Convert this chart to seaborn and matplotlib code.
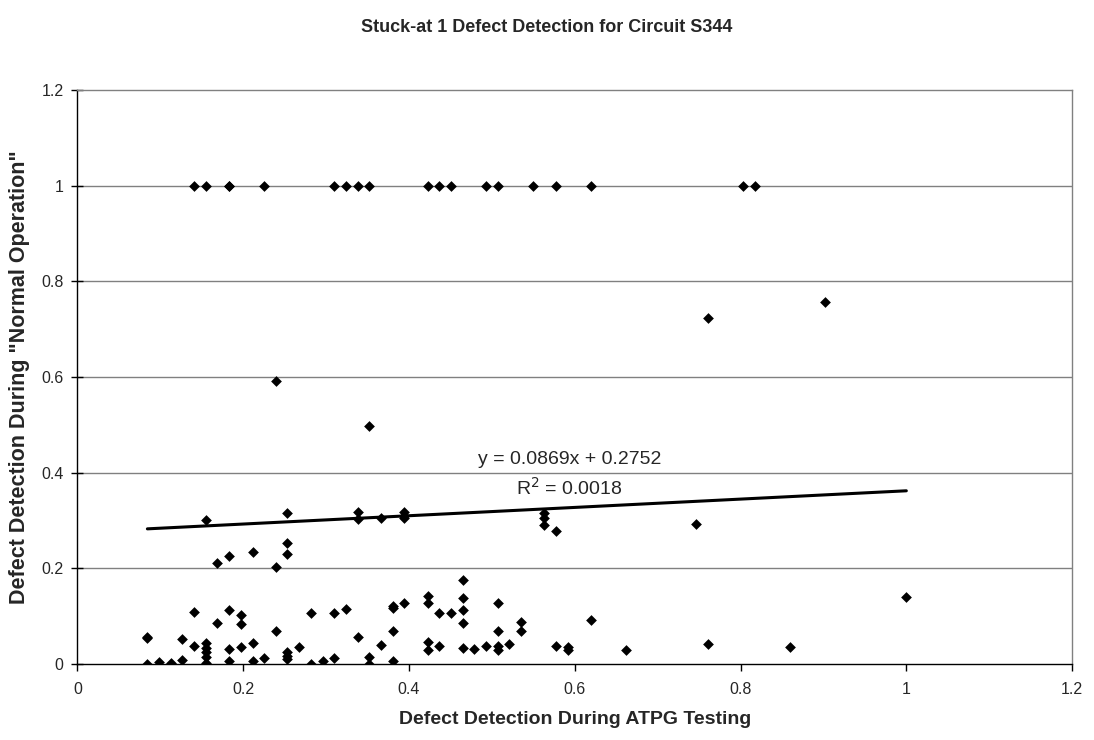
import numpy as np
import pandas as pd
import matplotlib
matplotlib.use("Agg")
import matplotlib.pyplot as plt
import seaborn as sns

# ---- data ----
# points detected with probability 1 during normal operation
x_top = [0.1408, 0.1549, 0.1831, 0.1831, 0.2254, 0.3099, 0.3239, 0.3380, 0.3521,
         0.4225, 0.4366, 0.4507, 0.4930, 0.5070, 0.5493, 0.5775, 0.6197, 0.8028, 0.8169]
y_top = [1.0] * len(x_top)

# remaining points (ATPG detection, normal-operation detection)
x_low = [0.0845, 0.0845, 0.0845, 0.0986, 0.1127, 0.1127, 0.1268, 0.1268,
         0.1408, 0.1408, 0.1549, 0.1549, 0.1549, 0.1549, 0.1549, 0.1549,
         0.1690, 0.1690, 0.1831, 0.1831, 0.1831, 0.1831,
         0.1972, 0.1972, 0.1972, 0.2113, 0.2113, 0.2113, 0.2254,
         0.2394, 0.2394, 0.2394,
         0.2535, 0.2535, 0.2535, 0.2535, 0.2535, 0.2535,
         0.2676, 0.2817, 0.2817, 0.2958, 0.3099, 0.3099, 0.3239,
         0.3380, 0.3380, 0.3380, 0.3521, 0.3521, 0.3521,
         0.3662, 0.3662, 0.3803, 0.3803, 0.3803, 0.3803,
         0.3944, 0.3944, 0.3944, 0.3944,
         0.4225, 0.4225, 0.4225, 0.4225, 0.4366, 0.4366, 0.4507,
         0.4648, 0.4648, 0.4648, 0.4648, 0.4648, 0.4789, 0.4930,
         0.5070, 0.5070, 0.5070, 0.5070, 0.5211, 0.5352, 0.5352,
         0.5634, 0.5634, 0.5634, 0.5775, 0.5775, 0.5915, 0.5915,
         0.6197, 0.6620, 0.7465, 0.7606, 0.7606, 0.8592, 0.9014, 1.0]
y_low = [0.057, 0.055, 0.000, 0.004, 0.002, 0.000, 0.052, 0.008,
         0.109, 0.038, 0.300, 0.043, 0.033, 0.025, 0.015, 0.002,
         0.211, 0.085, 0.226, 0.112, 0.031, 0.007,
         0.102, 0.084, 0.036, 0.234, 0.043, 0.007, 0.012,
         0.592, 0.202, 0.070,
         0.315, 0.254, 0.231, 0.026, 0.017, 0.010,
         0.036, 0.106, 0.000, 0.007, 0.106, 0.012, 0.116,
         0.317, 0.303, 0.057, 0.498, 0.015, 0.000,
         0.305, 0.039, 0.122, 0.118, 0.069, 0.007,
         0.317, 0.310, 0.305, 0.128,
         0.142, 0.128, 0.047, 0.029, 0.106, 0.038, 0.106,
         0.176, 0.137, 0.112, 0.086, 0.034, 0.031, 0.038,
         0.128, 0.069, 0.038, 0.029, 0.042, 0.088, 0.068,
         0.315, 0.305, 0.291, 0.277, 0.038, 0.035, 0.029,
         0.091, 0.029, 0.293, 0.723, 0.042, 0.036, 0.756, 0.141]

# linear trend line shown in the reference
trend_slope = 0.0869
trend_intercept = 0.2752
trend_r2 = 0.0018

x_ticks = [0, 0.2, 0.4, 0.6, 0.8, 1, 1.2]
y_ticks = [0, 0.2, 0.4, 0.6, 0.8, 1, 1.2]

title = "Stuck-at 1 Defect Detection for Circuit S344"
x_label = "Defect Detection During ATPG Testing"
y_label = 'Defect Detection During "Normal Operation"'

# ---- build ----
df = pd.DataFrame({"atpg": x_top + x_low, "normal": y_top + y_low})
trend_x = np.array([min(df["atpg"]), max(df["atpg"])])
trend_df = pd.DataFrame({"x": trend_x, "y": trend_slope * trend_x + trend_intercept})

sns.set_theme(style="white")
plt.rcParams["font.family"] = ["Liberation Sans", "DejaVu Sans"]

fig = plt.figure(figsize=(10.94, 7.4), dpi=100)
ax = fig.add_axes([0.0707, 0.1027, 0.9093, 0.7757])

for yv in y_ticks[1:-1]:
    ax.axhline(yv, color="#808080", lw=1.0, zorder=0)

sns.scatterplot(data=df, x="atpg", y="normal", marker="D", color="black",
                s=30, linewidth=0, ax=ax, zorder=3)
sns.lineplot(data=trend_df, x="x", y="y", color="black", lw=2.2, ax=ax, zorder=2)

ax.set_xlim(0, 1.2)
ax.set_ylim(0, 1.2)
ax.set_xticks(x_ticks)
ax.set_yticks(y_ticks)
ax.set_xticklabels(["0", "0.2", "0.4", "0.6", "0.8", "1", "1.2"])
ax.set_yticklabels(["0", "0.2", "0.4", "0.6", "0.8", "1", "1.2"])
ax.tick_params(axis="x", direction="out", length=5, width=1, color="black",
               labelsize=11.5, pad=8, bottom=True)
ax.tick_params(axis="y", direction="inout", length=8, width=1, color="black",
               labelsize=11.5, pad=6, left=True)

for side in ["left", "bottom"]:
    ax.spines[side].set_color("black")
    ax.spines[side].set_linewidth(1.0)
for side in ["top", "right"]:
    ax.spines[side].set_color("#808080")
    ax.spines[side].set_linewidth(1.0)

ax.set_xlabel(x_label, fontsize=14, fontweight="bold", labelpad=10)
ax.set_ylabel(y_label, fontsize=15.5, fontweight="bold", labelpad=8)

fig.text(0.5, 1 - 28 / 740, title, ha="center", va="center",
         fontsize=13, fontweight="bold")

ax.text(0.594, 0.4265, f"y = {trend_slope:.4f}x + {trend_intercept:.4f}",
        ha="center", va="center", fontsize=14)
ax.text(0.593, 0.368, f"R$^2$ = {trend_r2:.4f}", ha="center", va="center", fontsize=14)

fig.savefig("out.png", dpi=100, facecolor="white")
